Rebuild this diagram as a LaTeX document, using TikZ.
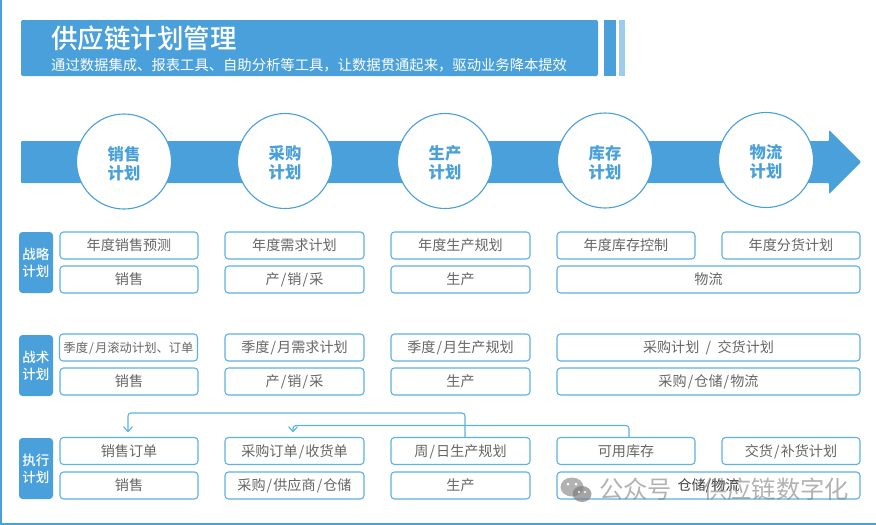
\documentclass[tikz,border=0pt]{standalone}
\usepackage{fontspec}
\setmainfont{Noto Sans CJK SC}
\newfontfamily\medfont{Noto Sans CJK SC Medium}
\usetikzlibrary{arrows.meta}
\definecolor{mainblue}{HTML}{4AA0DA}
\definecolor{lineblue}{HTML}{5CB2E6}
\definecolor{paleblue}{HTML}{9CCDEC}
\definecolor{boxgray}{HTML}{666666}
\newcommand{\slashgap}{\kern1.1pt/\kern1.1pt}
\begin{document}
\begin{tikzpicture}[x=1pt, y=-1pt,
   box_style/.style={draw=lineblue, line width=1.1pt, rounded corners=3.5pt, fill=white, text=boxgray, inner sep=0pt, minimum height=27pt, text height=13pt, text depth=2.5pt, font=\fontsize{14.1}{16}\selectfont},
   tag_style/.style={fill=mainblue, rounded corners=3.5pt, text=white, inner sep=0pt, minimum width=34pt, minimum height=61pt, align=center, font=\fontsize{13.5}{17}\medfont},
   stage_style/.style={circle, draw=mainblue, line width=1.1pt, fill=white, text=mainblue, inner sep=0pt, minimum size=95pt, align=center, font=\fontsize{16.3}{19}\bfseries},
   link_style/.style={draw=lineblue, line width=1.1pt, rounded corners=3pt, -{Straight Barb[length=5pt,width=9pt]}, shorten >=4.5pt},
   mark_style/.style={text=gray, text opacity=.6, font=\fontsize{24.3}{27}\selectfont}]
	\useasboundingbox (0,0) rectangle (876,525);
	\fill [mainblue] (0,0) rectangle (1.5,525);
	\fill [mainblue] (0,523) rectangle (876,525);

	% header
	\fill [mainblue, rounded corners=2pt] (21,20) rectangle (598,76);
	\fill [mainblue] (604,20) rectangle (616,76);
	\fill [paleblue] (619,20) rectangle (625,76);
	\node [anchor=west, inner sep=0pt, text=white, font=\fontsize{26.5}{30}\medfont] (title) at (51,38) {供应链计划管理};
	\node [anchor=west, inner sep=0pt, text=white, font=\fontsize{14.33}{17}\selectfont] (subtitle) at (51,65) {通过数据集成、报表工具、自助分析等工具，让数据贯通起来，驱动业务降本提效};

	% arrow
	\fill [mainblue, rounded corners=1pt] (21,141) -- (829,141) -- (829,130) -- (861,162) -- (829,194) -- (829,183) -- (21,183) -- cycle;
	\foreach \name/\x/\y/\txt in {
		s1/124/161.5/销售,
		s2/285/161/采购,
		s3/445/161/生产,
		s4/605/160.5/库存,
		s5/766/160/物流
		}
	  \node [stage_style] (\name) at (\x,\y) {\rule{0pt}{18.5pt}\txt\\计划};

	% rows
	\node [tag_style] (t1) at (36,262.5) {战略\\计划};
	\node [tag_style] (t2) at (36,365.5) {战术\\计划};
	\node [tag_style] (t3) at (36,468.5) {执行\\计划};

	\foreach \name/\x/\y/\w/\txt in {
		a1/129/245.5/138/年度销售预测,
		a2/294.5/245.5/139/年度需求计划,
		a3/460.5/245.5/139/年度生产规划,
		a4/626/245.5/138/年度库存控制,
		a5/791/245.5/138/年度分货计划,
		b1/129/279.5/138/销售,
		b2/294.5/279.5/139/{产\slashgap 销\slashgap 采},
		b3/460.5/279.5/139/生产,
		b4/708.5/279.5/303/物流,
		d2/294.5/347.5/139/{季度\slashgap 月需求计划},
		d3/460.5/347.5/139/{季度\slashgap 月生产规划},
		d4/708.5/347.5/303/{采购计划\ \ /\ \ 交货计划},
		e1/129/381.5/138/销售,
		e2/294.5/381.5/139/{产\slashgap 销\slashgap 采},
		e3/460.5/381.5/139/生产,
		e4/708.5/381.5/303/{采购\slashgap 仓储\slashgap 物流},
		f1/129/451/138/销售订单,
		f2/294.5/451/139/{采购订单\slashgap 收货单},
		f3/460.5/451/139/{周\slashgap 日生产规划},
		f4/626/451/138/可用库存,
		f5/791/451/138/{交货\slashgap 补货计划},
		g1/129/485.5/138/销售,
		g2/294.5/485.5/139/{采购\slashgap 供应商\slashgap 仓储},
		g3/460.5/485.5/139/生产
		}
	  \node [box_style, minimum width=\w pt] (\name) at (\x,\y) {\txt};
	\node [box_style, minimum width=138pt, font=\fontsize{12.3}{14}\selectfont] (d1) at (128.5,347.5) {季度\slashgap 月滚动计划、订单};
	\node [box_style, minimum width=303pt, text=black!75] (g4) at (708.5,485.5) {仓储/物流};

	% links
	\coordinate (c1) at (128,413);
	\coordinate (c2) at (293,425.5);
	\draw [link_style] ([xshift=4.5pt]f3.north) |- (c1) -- (c1 |- f1.north);
	\draw [link_style] ([xshift=3pt]f4.north) |- (c2) -- (c2 |- f2.north);

	% watermark
	\fill [gray, opacity=.6] (572,487) ellipse (11.5 and 9.5);
	\fill [gray, opacity=.7] (582,494) ellipse (9.5 and 8);
	\fill [white] (568,484) circle (1.5) (576,484) circle (1.5) (579,492) circle (1.2) (585,492) circle (1.2);
	\node [mark_style, anchor=west, inner sep=0pt] (m1) at (599,489.5) {公众号};
	\node [mark_style, anchor=west, inner sep=0pt] (m2) at (703,489.5) {供应链数字化};
\end{tikzpicture}
\end{document}
